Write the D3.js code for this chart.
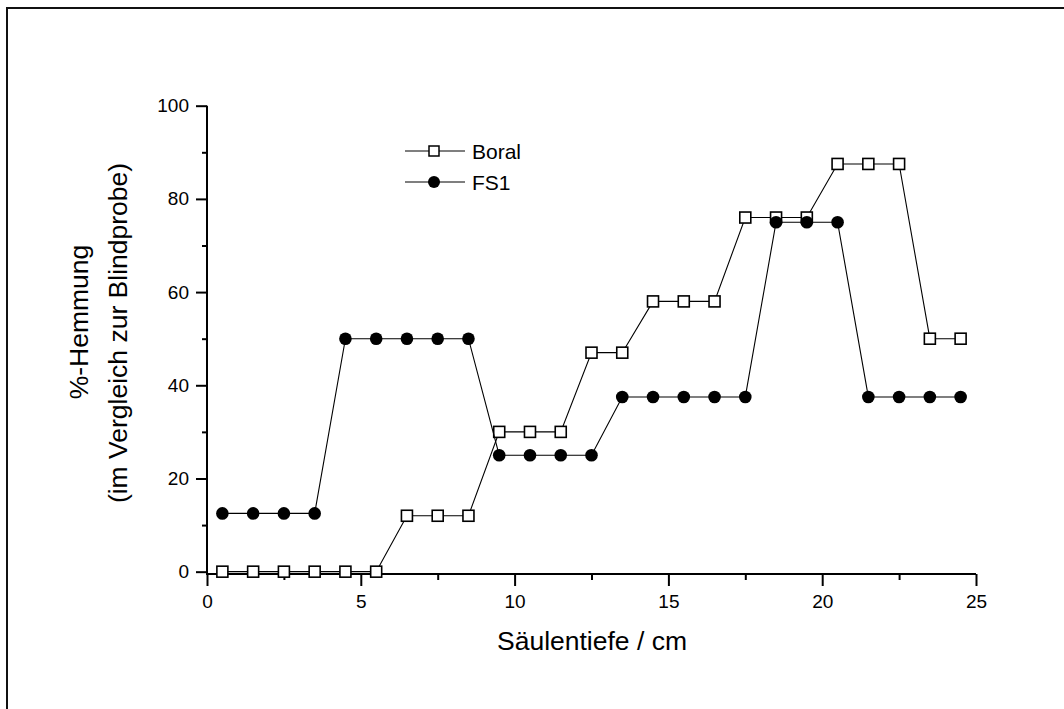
<!DOCTYPE html>
<html>
<head>
<meta charset="utf-8">
<script src="https://cdn.jsdelivr.net/npm/d3@7"></script>
<style>
  html, body { margin: 0; padding: 0; background: #fff; }
  svg { display: block; font-family: Arial, "Liberation Sans", sans-serif; }
</style>
</head>
<body>
<svg id="chart" width="1064" height="709"></svg>
<script>
// Data
const depths = [0.5,1.5,2.5,3.5,4.5,5.5,6.5,7.5,8.5,9.5,10.5,11.5,12.5,13.5,14.5,15.5,16.5,17.5,18.5,19.5,20.5,21.5,22.5,23.5,24.5];
const boral = [0,0,0,0,0,0,12,12,12,30,30,30,47,47,58,58,58,76,76,76,87.5,87.5,87.5,50,50];
const fs1 = [12.5,12.5,12.5,12.5,50,50,50,50,50,25,25,25,25,37.5,37.5,37.5,37.5,37.5,75,75,75,37.5,37.5,37.5,37.5];
const xTicks = [0,5,10,15,20,25];
const xMinor = [2.5,7.5,12.5,17.5,22.5];
const yTicks = [0,20,40,60,80,100];
const yMinor = [10,30,50,70,90];
const seriesNames = ["Boral", "FS1"];
const xTitle = "Säulentiefe / cm";
const yTitle = ["%-Hemmung", "(im Vergleich zur Blindprobe)"];

const svg = d3.select("#chart");

// outer frame
svg.append("rect").attr("x", 7).attr("y", 8).attr("width", 1100).attr("height", 760)
  .attr("fill", "none").attr("stroke", "#111").attr("stroke-width", 2);

const x = d3.scaleLinear().domain([0, 25]).range([207, 976]);
const y = d3.scaleLinear().domain([-0.5, 100]).range([574, 105.7]);

// X axis
const xAxisG = svg.append("g").attr("transform", `translate(0,${y(-0.5)})`);
xAxisG.call(d3.axisBottom(x).tickValues(xTicks).tickSize(12).tickPadding(9).tickFormat(d3.format("d")));
const xMinorG = svg.append("g").attr("transform", `translate(0,${y(-0.5)})`);
xMinorG.call(d3.axisBottom(x).tickValues(xMinor).tickSize(6).tickFormat(""));

// Y axis
const yAxisG = svg.append("g").attr("transform", `translate(${x(0)},0)`);
yAxisG.call(d3.axisLeft(y).tickValues(yTicks).tickSize(11).tickPadding(7).tickFormat(d3.format("d")));
const yMinorG = svg.append("g").attr("transform", `translate(${x(0)},0)`);
yMinorG.call(d3.axisLeft(y).tickValues(yMinor).tickSize(5).tickFormat(""));

svg.selectAll(".tick line").attr("stroke", "#000").attr("stroke-width", 2);
svg.selectAll(".tick text").attr("font-size", 19).attr("fill", "#000")
   .attr("font-family", "Arial, 'Liberation Sans', sans-serif");
// replace domain paths (with end caps) by straight axis lines
svg.selectAll(".domain").remove();
svg.append("line").attr("x1", x(0)).attr("x2", x(25)).attr("y1", y(-0.5)).attr("y2", y(-0.5))
  .attr("stroke", "#000").attr("stroke-width", 2);
svg.append("line").attr("x1", x(0)).attr("x2", x(0)).attr("y1", y(-0.5)+1).attr("y2", y(100))
  .attr("stroke", "#000").attr("stroke-width", 2);

// Axis titles
svg.append("text").attr("x", 592).attr("y", 650).attr("text-anchor", "middle")
  .attr("font-size", 26.5).attr("fill", "#000").text(xTitle);
svg.append("text").attr("transform", "translate(88,322) rotate(-90)").attr("text-anchor", "middle")
  .attr("font-size", 26.5).attr("fill", "#000").text(yTitle[0]);
svg.append("text").attr("transform", "translate(127,333) rotate(-90)").attr("text-anchor", "middle")
  .attr("font-size", 26.5).attr("fill", "#000").text(yTitle[1]);

// Lines and markers
const line = d3.line().x((d, i) => x(depths[i])).y(d => y(d));
svg.append("path").datum(boral).attr("d", line).attr("fill", "none").attr("stroke", "#000").attr("stroke-width", 1.1);
const sq = 11;
svg.append("g").selectAll("rect").data(boral).join("rect")
  .attr("x", (d, i) => x(depths[i]) - sq/2).attr("y", d => y(d) - sq/2)
  .attr("width", sq).attr("height", sq)
  .attr("fill", "#fff").attr("stroke", "#000").attr("stroke-width", 1.6);

svg.append("path").datum(fs1).attr("d", line).attr("fill", "none").attr("stroke", "#000").attr("stroke-width", 1.1);
svg.append("g").selectAll("circle").data(fs1).join("circle")
  .attr("cx", (d, i) => x(depths[i])).attr("cy", d => y(d)).attr("r", 6.3)
  .attr("fill", "#000");

// Legend
const lg = svg.append("g");
const legY = [151, 182];
seriesNames.forEach((name, k) => {
  lg.append("line").attr("x1", 405).attr("x2", 465).attr("y1", legY[k]).attr("y2", legY[k])
    .attr("stroke", "#000").attr("stroke-width", 1.1);
  if (k === 0) {
    lg.append("rect").attr("x", 434 - 5).attr("y", legY[k] - 5).attr("width", 10).attr("height", 10)
      .attr("fill", "#fff").attr("stroke", "#000").attr("stroke-width", 1.5);
  } else {
    lg.append("circle").attr("cx", 434).attr("cy", legY[k]).attr("r", 6).attr("fill", "#000");
  }
  lg.append("text").attr("x", 472).attr("y", legY[k] + 7.5).attr("font-size", 21).attr("fill", "#000").text(name);
});
</script>
</body>
</html>
